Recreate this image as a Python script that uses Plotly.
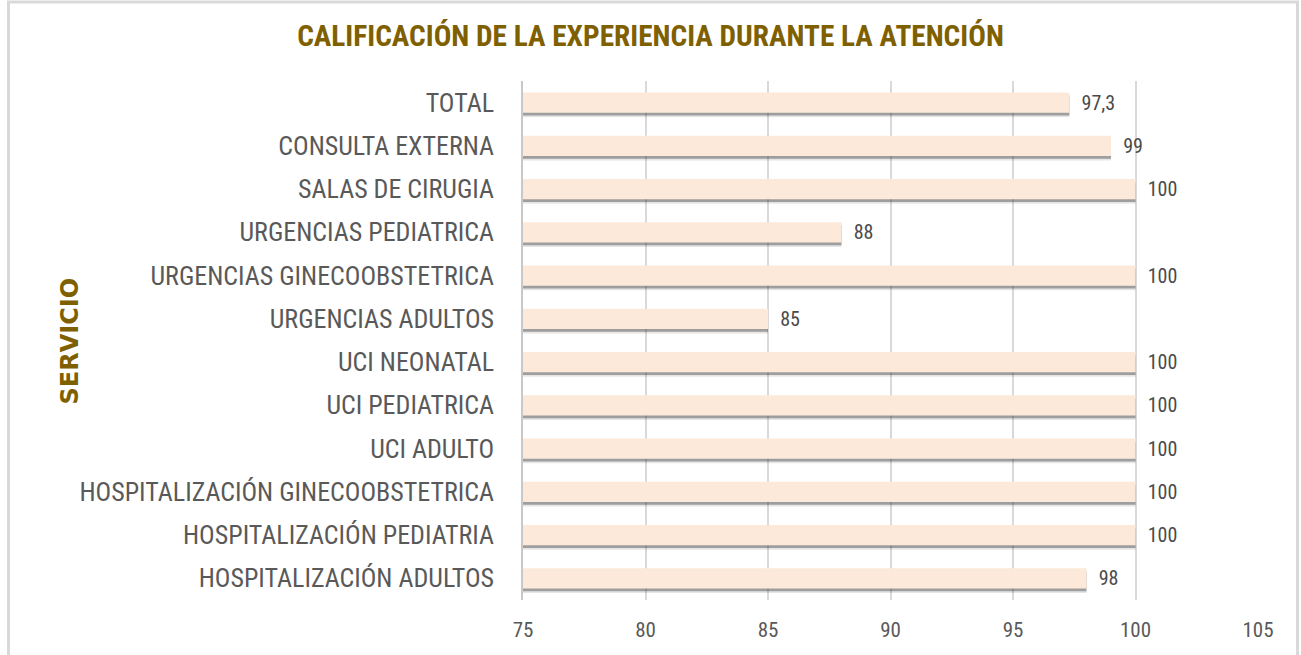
import plotly.graph_objects as go

SERVICES = [
    "TOTAL",
    "CONSULTA EXTERNA",
    "SALAS DE CIRUGIA",
    "URGENCIAS PEDIATRICA",
    "URGENCIAS GINECOOBSTETRICA",
    "URGENCIAS ADULTOS",
    "UCI NEONATAL",
    "UCI PEDIATRICA",
    "UCI ADULTO",
    "HOSPITALIZACIÓN GINECOOBSTETRICA",
    "HOSPITALIZACIÓN PEDIATRIA",
    "HOSPITALIZACIÓN ADULTOS",
]
SCORES = [97.3, 99, 100, 88, 100, 85, 100, 100, 100, 100, 100, 98]
X_TICKS = [75, 80, 85, 90, 95, 100, 105]

TITLE_COLOR = "#7F6000"
BAR_COLOR = "#FDE9D9"
FONT = "Liberation Sans Narrow, Roboto Condensed, Arial Narrow, sans-serif"

W, H = 1301, 655
L, R, T, B = 523, 43, 81, 55

labels = ["\u00a0\u00a0" + f"{v:g}".replace(".", ",") for v in SCORES]

fig = go.Figure()
# soft drop shadow under each bar (two layers to fake a blur)
fig.add_trace(go.Bar(
    y=SERVICES, x=SCORES, orientation="h",
    width=0.47, offset=-0.13,
    marker=dict(color="rgba(0,0,0,0.10)", line_width=0),
    hoverinfo="skip", showlegend=False,
))
fig.add_trace(go.Bar(
    y=SERVICES, x=SCORES, orientation="h",
    width=0.47, offset=-0.17,
    marker=dict(color="rgba(70,70,70,0.45)", line_width=0),
    hoverinfo="skip", showlegend=False,
))
fig.add_trace(go.Bar(
    y=SERVICES, x=SCORES, orientation="h",
    width=0.47, offset=-0.235,
    marker=dict(color=BAR_COLOR, line_width=0),
    text=labels, textposition="outside", constraintext="none",
    textfont=dict(family=FONT, size=20, color="#4A4A4A"),
    cliponaxis=False, showlegend=False,
    hovertemplate="%{y}: %{x}<extra></extra>",
))


def px_x(p):
    return (p - L) / (W - L - R)


def px_y(p):
    return (H - B - p) / (H - T - B)


# outer chart frame
fig.add_shape(
    type="rect", xref="paper", yref="paper",
    x0=px_x(8.5), x1=px_x(1297.5), y0=px_y(700), y1=px_y(2),
    line=dict(color="#D9D9D9", width=3), layer="below",
)

fig.add_annotation(
    text="<b>SERVICIO</b>", textangle=-90,
    xref="paper", yref="paper", x=px_x(53), y=0.5,
    showarrow=False,
    font=dict(family="DejaVu Sans", size=24, color=TITLE_COLOR),
)

fig.update_layout(
    width=W, height=H,
    margin=dict(l=L, r=R, t=T, b=B),
    barmode="overlay",
    plot_bgcolor="white",
    paper_bgcolor="white",
    title=dict(
        text="<b>CALIFICACIÓN DE LA EXPERIENCIA DURANTE LA ATENCIÓN</b>",
        x=0.5, xanchor="center", y=1 - 36 / H, yanchor="middle",
        font=dict(family=FONT, size=29.3, color=TITLE_COLOR),
    ),
    font=dict(family=FONT),
)
fig.update_xaxes(
    range=[75, 105], tickvals=X_TICKS,
    showgrid=True, gridcolor="#D9D9D9", gridwidth=1.5,
    zeroline=False, showline=False,
    tickfont=dict(family=FONT, size=21, color="#595959"),
    ticklabelstandoff=15,
)
fig.update_yaxes(
    autorange="reversed",
    showline=True, linecolor="#C8C8C8", linewidth=1.5,
    ticks="", ticklabelstandoff=22,
    tickfont=dict(family=FONT, size=26, color="#595959"),
)

fig.write_html(
    "out.html",
    config={"displayModeBar": False},
    post_script="document.body.style.margin='0';",
)
